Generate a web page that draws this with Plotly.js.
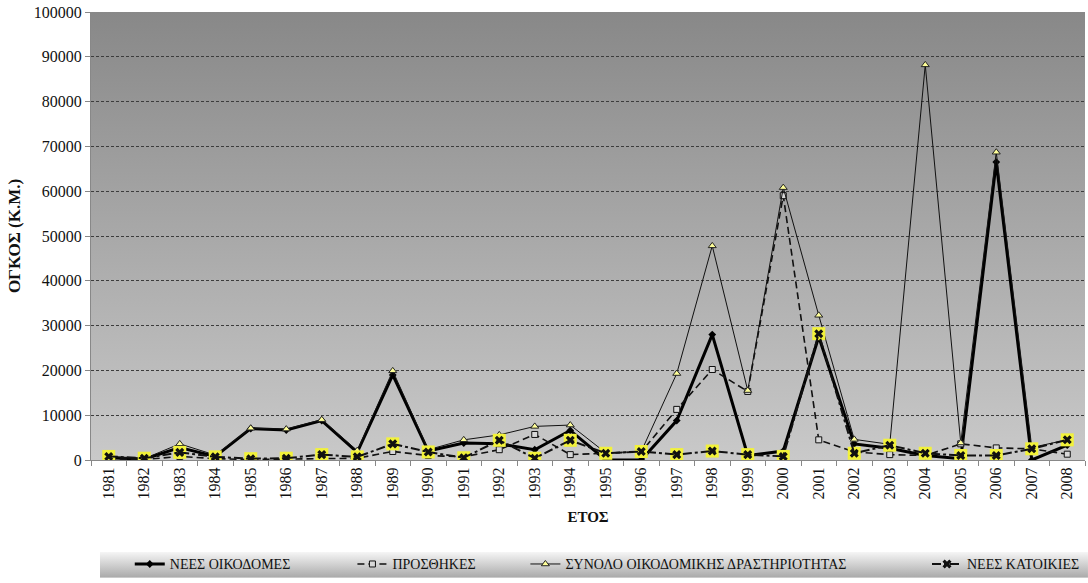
<!DOCTYPE html>
<html>
<head>
<meta charset="utf-8">
<script src="https://cdn.plot.ly/plotly-3.0.1.min.js"></script>
<style>html,body{margin:0;padding:0;background:#fff;}#chart{width:1088px;height:583px;}</style>
</head>
<body>
<div id="chart"></div>
<script>
const years = ['1981','1982','1983','1984','1985','1986','1987','1988','1989','1990','1991','1992','1993','1994','1995','1996','1997','1998','1999','2000','2001','2002','2003','2004','2005','2006','2007','2008'];
const newBuildings = [500,200,2800,800,7000,6700,8800,1700,19000,2000,3800,3600,2300,6600,0,0,8800,28000,1000,2000,27500,3600,2600,1000,300,66500,0,3300];
const additions = [300,100,800,300,100,200,300,400,1900,1000,700,2300,5700,1200,1500,1800,11300,20200,15300,59000,4500,1800,1200,1000,3600,2700,2500,1300];
const total = [800,300,3600,1100,7100,6900,9000,2100,19900,2300,4500,5600,7500,7800,1600,1900,19300,47800,15500,60800,32300,4600,3500,88200,3800,68700,2800,4500];
const newDwellings = [800,400,1700,700,300,400,1200,700,3600,1800,500,4400,400,4400,1500,1900,1200,2000,1200,800,28200,1500,3300,1500,1000,1000,2500,4500];
const seriesNames = ['ΝΕΕΣ ΟΙΚΟΔΟΜΕΣ','ΠΡΟΣΘΗΚΕΣ','ΣΥΝΟΛΟ ΟΙΚΟΔΟΜΙΚΗΣ ΔΡΑΣΤΗΡΙΟΤΗΤΑΣ','ΝΕΕΣ ΚΑΤΟΙΚΙΕΣ'];

function grad(top, bottom){
  const svg = '<svg xmlns="http://www.w3.org/2000/svg" width="100" height="100" preserveAspectRatio="none"><defs><linearGradient id="g" x1="0" y1="0" x2="0" y2="1"><stop offset="0" stop-color="'+top+'"/><stop offset="1" stop-color="'+bottom+'"/></linearGradient></defs><rect width="100" height="100" fill="url(#g)"/></svg>';
  return 'data:image/svg+xml;charset=utf-8,' + encodeURIComponent(svg);
}

const fontName = 'Liberation Serif';

const traces = [
  {x: years, y: newBuildings, name: seriesNames[0], type:'scatter', mode:'lines+markers',
   line:{color:'#000', width:3}, marker:{symbol:'diamond', size:6, color:'#000'}, legend:'legend'},
  {x: years, y: additions, name: seriesNames[1], type:'scatter', mode:'lines+markers',
   line:{color:'#111', width:1.6, dash:'7px,4px'}, marker:{symbol:'square', size:6, color:'#d8d8d8', line:{color:'#111', width:1}}, legend:'legend2'},
  {x: years, y: total, name: seriesNames[2], type:'scatter', mode:'lines+markers',
   line:{color:'#111', width:1}, marker:{symbol:'triangle-up', size:7, color:'#ffff99', line:{color:'#222', width:1}}, legend:'legend3'},
  {x: years, y: newDwellings, name: seriesNames[3], type:'scatter', mode:'markers', showlegend:false, hoverinfo:'skip',
   marker:{symbol:'square', size:13, color:'#f2f23a', line:{width:0}}},
  {x: years, y: newDwellings, name: seriesNames[3], type:'scatter', mode:'lines+markers',
   line:{color:'#111', width:2, dash:'dashdot'}, marker:{symbol:'x', size:8, color:'#111'}, legend:'legend4'}
];

const legendBase = {orientation:'h', yanchor:'middle', y:-0.233, xanchor:'left', bgcolor:'rgba(0,0,0,0)',
  font:{family:fontName, size:14, color:'#111'}};

const layout = {
  width:1088, height:583,
  margin:{l:91, r:3, t:12, b:121},
  paper_bgcolor:'#ffffff',
  plot_bgcolor:'rgba(0,0,0,0)',
  font:{family:fontName, color:'#111'},
  images:[
    {source:grad('#888888','#c9c9c9'), xref:'paper', yref:'paper', x:0, y:1, sizex:1, sizey:1,
     sizing:'stretch', layer:'below', xanchor:'left', yanchor:'top'},
    {source:grad('#f6f6f6','#a9a9a9'), xref:'paper', yref:'paper', x:0.009, y:-0.205, sizex:0.994, sizey:0.058,
     sizing:'stretch', layer:'below', xanchor:'left', yanchor:'top'}
  ],
  xaxis:{type:'category', range:[-0.5, years.length-0.5], autorange:false, tickangle:-90, tickson:'boundaries', ticks:'outside', ticklen:5, tickcolor:'#888',
    showline:true, linecolor:'#888', linewidth:1, showgrid:false, zeroline:false, automargin:false,
    tickfont:{family:fontName, size:16, color:'#111'},
    title:{text:'<b>ΕΤΟΣ</b>', font:{family:fontName, size:15, color:'#111'}, standoff:13}},
  yaxis:{range:[0,100000], autorange:false, dtick:10000, tickformat:'d', ticks:'outside', ticklen:5, tickcolor:'#888',
    showline:true, linecolor:'#888', linewidth:1, zeroline:false,
    showgrid:true, gridcolor:'#3c3c3c', gridwidth:1, griddash:'3px,2px',
    tickfont:{family:fontName, size:16, color:'#111'},
    title:{text:'<b>ΟΓΚΟΣ (Κ.Μ.)</b>', font:{family:fontName, size:17, color:'#111'}, standoff:8}},
  showlegend:true,
  legend: Object.assign({}, legendBase, {x:0.039}),
  legend2: Object.assign({}, legendBase, {x:0.263}),
  legend3: Object.assign({}, legendBase, {x:0.437}),
  legend4: Object.assign({}, legendBase, {x:1.0, xanchor:'right'})
};

Plotly.newPlot('chart', traces, layout, {displayModeBar:false, staticPlot:true});
</script>
</body>
</html>
